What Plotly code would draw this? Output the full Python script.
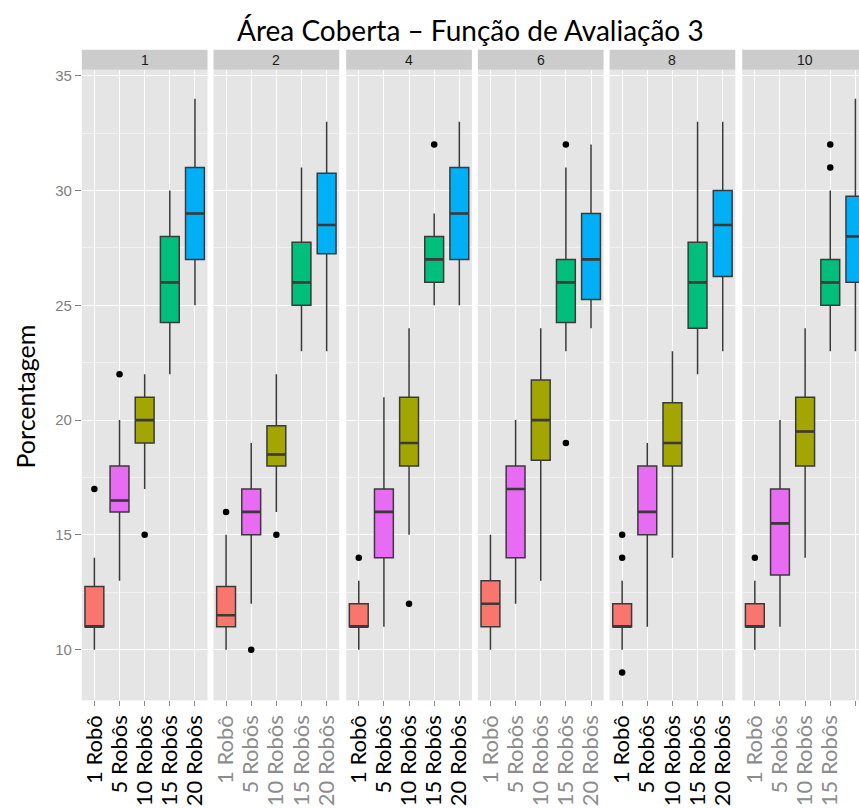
import plotly.graph_objects as go

# Facets (first header) and robot-count groups within each facet
facets = ["1", "2", "4", "6", "8", "10"]
groups = ["1 Robô", "5 Robôs", "10 Robôs", "15 Robôs", "20 Robôs"]
group_colors = ["#F8766D", "#E76BF3", "#A3A500", "#00BF7D", "#00B0F6"]

# Box statistics per facet (rows) and group (columns), in percent
lower_whisker = [
    [10, 13, 17, 22, 25],
    [10, 12, 16, 23, 23],
    [10, 11, 15, 25, 25],
    [10, 12, 13, 23, 24],
    [10, 11, 14, 22, 23],
    [10, 11, 14, 23, 23],
]
q1 = [
    [11, 16, 19, 24.25, 27],
    [11, 15, 18, 25, 27.25],
    [11, 14, 18, 26, 27],
    [11, 14, 18.25, 24.25, 25.25],
    [11, 15, 18, 24, 26.25],
    [11, 13.25, 18, 25, 26],
]
median = [
    [11, 16.5, 20, 26, 29],
    [11.5, 16, 18.5, 26, 28.5],
    [11, 16, 19, 27, 29],
    [12, 17, 20, 26, 27],
    [11, 16, 19, 26, 28.5],
    [11, 15.5, 19.5, 26, 28],
]
q3 = [
    [12.75, 18, 21, 28, 31],
    [12.75, 17, 19.75, 27.75, 30.75],
    [12, 17, 21, 28, 31],
    [13, 18, 21.75, 27, 29],
    [12, 18, 20.75, 27.75, 30],
    [12, 17, 21, 27, 29.75],
]
upper_whisker = [
    [14, 20, 22, 30, 34],
    [15, 19, 22, 31, 33],
    [13, 21, 24, 29, 33],
    [15, 20, 24, 31, 32],
    [13, 19, 23, 33, 33],
    [13, 20, 24, 30, 34],
]
# Outliers: (facet index, group index, value)
outlier_facet = [0, 0, 0, 1, 1, 1, 2, 2, 2, 3, 3, 4, 4, 4, 5, 5, 5]
outlier_group = [0, 1, 2, 0, 1, 2, 0, 2, 3, 3, 3, 0, 0, 0, 0, 3, 3]
outlier_value = [17, 22, 15, 16, 10, 15, 14, 12, 32, 32, 19, 15, 14, 9, 14, 32, 31]

y_range = [7.79, 35.26]
W, H = 859, 808

# Panel geometry in pixels
panel_left = [80, 212, 345, 477, 609, 742]
panel_w = 126
panel_top, panel_bottom = 67, 700
strip_top = 47

box_w = 0.75
edge = "#3A3A3A"
fig = go.Figure()

for f in range(len(facets)):
    ax = "" if f == 0 else str(f + 1)
    for g in range(len(groups)):
        fig.add_trace(go.Box(
            x=[g], q1=[q1[f][g]], median=[median[f][g]], q3=[q3[f][g]],
            lowerfence=[lower_whisker[f][g]], upperfence=[upper_whisker[f][g]],
            width=box_w, fillcolor=group_colors[g],
            line=dict(color=edge, width=1.5), whiskerwidth=0,
            boxpoints=False, showlegend=False,
            xaxis="x" + ax, yaxis="y" + ax,
        ))
        # thicker median bar
        fig.add_trace(go.Scatter(
            x=[g - box_w / 2, g + box_w / 2], y=[median[f][g], median[f][g]],
            mode="lines", line=dict(color=edge, width=2.6),
            showlegend=False, hoverinfo="skip",
            xaxis="x" + ax, yaxis="y" + ax,
        ))
    ox = [outlier_group[i] for i in range(len(outlier_value)) if outlier_facet[i] == f]
    oy = [outlier_value[i] for i in range(len(outlier_value)) if outlier_facet[i] == f]
    if ox:
        fig.add_trace(go.Scatter(
            x=ox, y=oy, mode="markers",
            marker=dict(color="black", size=6.5),
            showlegend=False, xaxis="x" + ax, yaxis="y" + ax,
        ))

y_dom = [1 - panel_bottom / H, 1 - panel_top / H]
layout = dict(
    width=W, height=H,
    margin=dict(l=0, r=0, t=0, b=0),
    paper_bgcolor="white", plot_bgcolor="#E5E5E5",
    showlegend=False,
    boxmode="overlay",
)
shapes = []
annotations = []
for f in range(len(facets)):
    ax = "" if f == 0 else str(f + 1)
    x0 = panel_left[f] / W
    x1_px = panel_left[f] + panel_w
    x1 = min(x1_px, W) / W
    # last panel runs past the page edge; show only its visible part
    x_hi = -0.5 + 5 * (min(x1_px, W) - panel_left[f]) / panel_w
    label_color = "#000000" if f % 2 == 0 else "#8C8C8C"
    layout["xaxis" + ax] = dict(
        domain=[x0, x1], range=[-0.5, x_hi], anchor="y" + ax,
        tickmode="array", tickvals=list(range(len(groups))), ticktext=groups,
        tickangle=-90, ticks="outside", ticklen=5, tickcolor="#8C8C8C",
        ticklabeloverflow="hide past div",
        tickfont=dict(family="Lato", size=22, color=label_color),
        showgrid=True, gridcolor="white", gridwidth=1.3,
        zeroline=False, showline=False, fixedrange=True,
    )
    ydef = dict(
        domain=y_dom, range=y_range, anchor="x" + ax,
        tickmode="linear", tick0=10, dtick=5,
        showgrid=True, gridcolor="white", gridwidth=1.3,
        minor=dict(showgrid=True, gridcolor="#F2F2F2", gridwidth=0.7, dtick=2.5, tick0=10),
        zeroline=False, showline=False, fixedrange=True,
    )
    if f == 0:
        ydef.update(ticks="outside", ticklen=6, tickcolor="#7F7F7F",
                    tickfont=dict(family="Liberation Sans", size=15, color="#7F7F7F"))
    else:
        ydef.update(showticklabels=False, ticks="")
    layout["yaxis" + ax] = ydef

    # facet strip
    shapes.append(dict(
        type="rect", xref="paper", yref="paper",
        x0=x0, x1=x1, y0=1 - panel_top / H, y1=1 - strip_top / H,
        fillcolor="#CCCCCC", line=dict(width=0), layer="below",
    ))
    annotations.append(dict(
        text=facets[f], xref="paper", yref="paper",
        x=(panel_left[f] + panel_w / 2) / W, y=1 - (strip_top + panel_top) / 2 / H,
        showarrow=False, xanchor="center", yanchor="middle",
        font=dict(family="Liberation Sans", size=14, color="#1A1A1A"),
    ))

annotations.append(dict(
    text="Área Coberta – Função de Avaliação 3", xref="paper", yref="paper",
    x=470 / W, y=1 - 27 / H, showarrow=False, xanchor="center", yanchor="middle",
    font=dict(family="Lato", size=28, color="black"),
))
annotations.append(dict(
    text="Porcentagem", xref="paper", yref="paper",
    x=23 / W, y=1 - 395 / H, showarrow=False, xanchor="center", yanchor="middle",
    textangle=-90, font=dict(family="Lato", size=25, color="black"),
))
layout["shapes"] = shapes
layout["annotations"] = annotations
fig.update_layout(**layout)

fig.write_html("out.html")
